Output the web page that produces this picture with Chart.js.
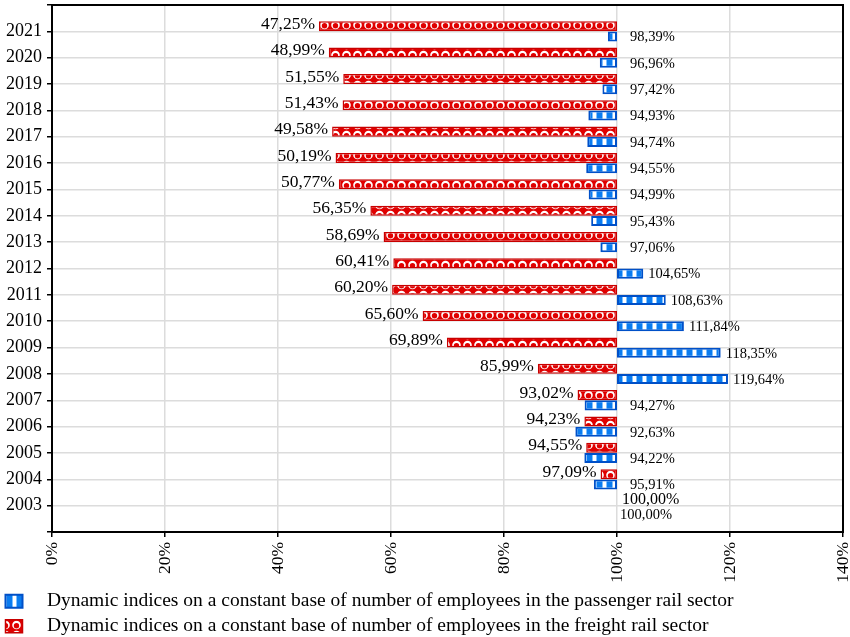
<!DOCTYPE html>
<html>
<head>
<meta charset="utf-8">
<script src="https://cdn.jsdelivr.net/npm/chart.js@4"></script>
<style>
  body { margin: 0; background: #fff; }
  #wrap { width: 850px; height: 637px; }
</style>
</head>
<body>
<div id="wrap"><canvas id="myChart" width="850" height="637"></canvas></div>
<script>
// years, top to bottom
var years = ['2021', '2020', '2019', '2018', '2017', '2016', '2015', '2014', '2013', '2012',
             '2011', '2010', '2009', '2008', '2007', '2006', '2005', '2004', '2003'];
var freight = [47.25, 48.99, 51.55, 51.43, 49.58, 50.19, 50.77, 56.35, 58.69, 60.41,
               60.20, 65.60, 69.89, 85.99, 93.02, 94.23, 94.55, 97.09, 100.00];
var passenger = [98.39, 96.96, 97.42, 94.93, 94.74, 94.55, 94.99, 95.43, 97.06, 104.65,
                 108.63, 111.84, 118.35, 119.64, 94.27, 92.63, 94.22, 95.91, 100.00];
var xTicks = [0, 20, 40, 60, 80, 100, 120, 140];
var baseValue = 100;

var serif = '"Liberation Serif", "DejaVu Serif", serif';

// patterns
function bluePattern() {
    var c = document.createElement('canvas');
    c.width = 10; c.height = 10;
    var g = c.getContext('2d');
    g.fillStyle = '#0a7cf0';
    g.fillRect(0, 0, 10, 10);
    g.fillStyle = '#7fc0ff';
    g.fillRect(2, 0, 1, 10);
    g.fillRect(6, 0, 1, 10);
    g.fillStyle = '#ffffff';
    g.fillRect(3, 0, 3, 10);
    return g.createPattern(c, 'repeat');
}
function redPattern() {
    var c = document.createElement('canvas');
    c.width = 11; c.height = 10;
    var g = c.getContext('2d');
    g.fillStyle = '#e00000';
    g.fillRect(0, 0, 11, 10);
    g.fillStyle = '#ffffff';
    g.beginPath();
    g.arc(5.5, 5, 4.3, 0, Math.PI * 2);
    g.fill();
    g.fillStyle = '#e00000';
    g.beginPath();
    g.arc(5.5, 5.8, 2.7, 0, Math.PI * 2);
    g.fill();
    return g.createPattern(c, 'repeat');
}

function fmt(v) {
    return v.toFixed(2).replace('.', ',') + '%';
}

var labels = [''].concat(years, ['']);
var freightData = [null].concat(freight.map(function (v) { return [v, baseValue]; }), [null]);
var passengerData = [null].concat(passenger.map(function (v) { return [Math.min(v, baseValue), Math.max(v, baseValue)]; }), [null]);

var frameAndLabels = {
    id: 'frameAndLabels',
    afterDatasetsDraw: function (chart) {
        var ctx = chart.ctx;
        var xs = chart.scales.x;
        var x100 = xs.getPixelForValue(baseValue);
        ctx.save();
        ctx.fillStyle = '#000';
        ctx.textBaseline = 'middle';
        // freight labels
        var m0 = chart.getDatasetMeta(0);
        freight.forEach(function (v, i) {
            var el = m0.data[i + 1];
            var y = el.y - 2;
            if (v < baseValue) {
                ctx.font = '17.5px ' + serif;
                ctx.textAlign = 'right';
                ctx.fillText(fmt(v), xs.getPixelForValue(v) - 4, y);
            } else {
                ctx.font = '16px ' + serif;
                ctx.textAlign = 'left';
                ctx.fillText(fmt(v), x100 + 5, y + 1);
            }
        });
        // passenger labels
        ctx.font = '14.5px ' + serif;
        ctx.textAlign = 'left';
        var m1 = chart.getDatasetMeta(1);
        passenger.forEach(function (v, i) {
            var el = m1.data[i + 1];
            var y = el.y + 1;
            var x = v > baseValue ? xs.getPixelForValue(v) + 5 : x100 + 13;
            if (v === baseValue) x = x100 + 3;
            ctx.fillText(fmt(v), x, y + (v === baseValue ? 3 : 0));
        });
        // frame
        var a = chart.chartArea;
        ctx.strokeStyle = '#000';
        ctx.lineWidth = 2;
        ctx.strokeRect(a.left, a.top, a.right - a.left, a.bottom - a.top);
        ctx.restore();
    }
};

function noPad(scale) {
    scale.paddingTop = 0;
    scale.paddingBottom = 0;
    scale.paddingLeft = 0;
    scale.paddingRight = 0;
}

var ctx = document.getElementById('myChart').getContext('2d');
var myChart = new Chart(ctx, {
    type: 'bar',
    data: {
        labels: labels,
        datasets: [{
            label: 'Dynamic indices on a constant base of number of employees in the freight rail sector',
            data: freightData,
            backgroundColor: redPattern(),
            borderColor: '#c80000',
            borderWidth: 1.5,
            borderSkipped: false
        }, {
            label: 'Dynamic indices on a constant base of number of employees in the passenger rail sector',
            data: passengerData,
            backgroundColor: bluePattern(),
            borderColor: '#0050c8',
            borderWidth: 2,
            borderSkipped: false
        }]
    },
    options: {
        indexAxis: 'y',
        responsive: false,
        animation: false,
        categoryPercentage: 0.78,
        barPercentage: 0.98,
        layout: { padding: { top: 5, right: 7, left: 0, bottom: -9 } },
        scales: {
            x: {
                min: 0,
                max: 140,
                afterBuildTicks: function (scale) {
                    scale.ticks = xTicks.map(function (v) { return { value: v }; });
                },
                afterFit: function (scale) { scale.height = 54; noPad(scale); },
                grid: { color: '#dcdcdc', lineWidth: 1.5, tickColor: '#000', tickLength: 5 },
                border: { color: '#000', width: 2 },
                ticks: {
                    minRotation: 90,
                    maxRotation: 90,
                    padding: 5,
                    color: '#000',
                    font: { family: serif, size: 17.5 },
                    callback: function (v) { return v + '%'; }
                }
            },
            y: {
                offset: false,
                afterFit: function (scale) { scale.width = 52; noPad(scale); },
                grid: { offset: false, color: '#dcdcdc', lineWidth: 1.5, tickColor: '#000', tickLength: 5 },
                border: { color: '#000', width: 2 },
                ticks: {
                    padding: 5,
                    autoSkip: false,
                    color: '#000',
                    font: { family: serif, size: 18 }
                }
            }
        },
        plugins: {
            tooltip: { enabled: false },
            legend: {
                position: 'bottom',
                align: 'start',
                labels: {
                    color: '#000',
                    font: { family: serif, size: 19.5 },
                    boxWidth: 17,
                    boxHeight: 13,
                    padding: 5.5,
                    sort: function (a, b) { return b.datasetIndex - a.datasetIndex; },
                    generateLabels: function (chart) {
                        var items = Chart.defaults.plugins.legend.labels.generateLabels(chart);
                        items.forEach(function (it) { it.text = '   ' + it.text; });
                        return items;
                    }
                }
            }
        }
    },
    plugins: [frameAndLabels]
});
</script>
</body>
</html>
